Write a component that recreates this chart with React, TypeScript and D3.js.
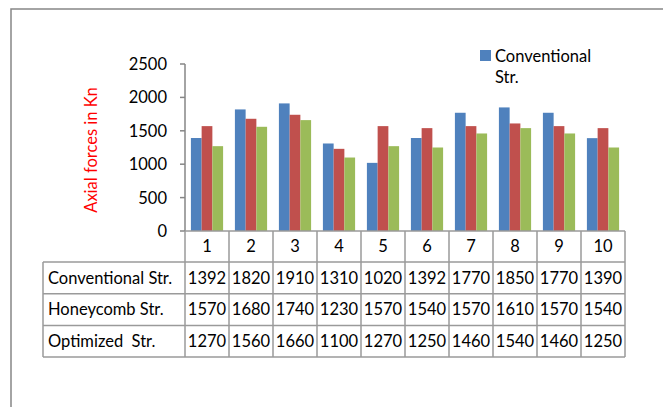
import React, { useEffect, useRef } from "react";
import * as d3 from "d3";

const categories = ["1", "2", "3", "4", "5", "6", "7", "8", "9", "10"];
const seriesNames = ["Conventional Str.", "Honeycomb Str.", "Optimized  Str."];
const conventional = [1392, 1820, 1910, 1310, 1020, 1392, 1770, 1850, 1770, 1390];
const honeycomb = [1570, 1680, 1740, 1230, 1570, 1540, 1570, 1610, 1570, 1540];
const optimized = [1270, 1560, 1660, 1100, 1270, 1250, 1460, 1540, 1460, 1250];
const yTicks = [0, 500, 1000, 1500, 2000, 2500];
const colors = ["#4F81BD", "#C0504D", "#9BBB59"];

const FONT = "Lato, 'Open Sans', sans-serif";
const FS = 16.5;

const App = () => {
	const svgRef = useRef<SVGSVGElement>(null);

	useEffect(() => {
		const svg = d3.select(svgRef.current);
		svg.selectAll("*").remove();

		const series = [conventional, honeycomb, optimized];
		const plot = { left: 185, right: 625, top: 64, bottom: 231 };
		const rowH = 31.7;
		const headerBottom = 262;
		const tableLeft = 43;

		const x = d3.scaleBand().domain(categories).range([plot.left, plot.right]);
		const x1 = d3
			.scaleBand()
			.domain(["0", "1", "2"])
			.range([0, x.bandwidth()])
			.paddingOuter(0.55)
			.paddingInner(0);
		const y = d3.scaleLinear().domain([0, 2500]).range([plot.bottom, plot.top]);

		// outer chart frame (only left and top edges visible)
		svg
			.append("path")
			.attr("d", "M11,407 V9 H663")
			.attr("fill", "none")
			.attr("stroke", "#868686")
			.attr("stroke-width", 1.5);

		// bars
		const groups = svg
			.append("g")
			.selectAll("g")
			.data(categories)
			.enter()
			.append("g")
			.attr("transform", (d) => `translate(${x(d)},0)`);

		groups
			.selectAll("rect")
			.data((d, i) => series.map((s, k) => ({ k, v: s[i] })))
			.enter()
			.append("rect")
			.attr("x", (d) => x1(String(d.k)))
			.attr("width", x1.bandwidth())
			.attr("y", (d) => y(d.v))
			.attr("height", (d) => plot.bottom - y(d.v))
			.attr("fill", (d) => colors[d.k]);

		// y axis
		const yAxis = svg.append("g").attr("transform", `translate(${plot.left},0)`);
		yAxis
			.append("line")
			.attr("y1", plot.top)
			.attr("y2", plot.bottom)
			.attr("stroke", "#868686")
			.attr("stroke-width", 1.5);
		yAxis
			.selectAll(".tick")
			.data(yTicks)
			.enter()
			.append("line")
			.attr("x1", -5)
			.attr("x2", 0)
			.attr("y1", (d) => y(d))
			.attr("y2", (d) => y(d))
			.attr("stroke", "#868686")
			.attr("stroke-width", 1.5);
		yAxis
			.selectAll("text")
			.data(yTicks)
			.enter()
			.append("text")
			.attr("x", -18)
			.attr("y", (d) => y(d))
			.attr("dy", "0.36em")
			.attr("text-anchor", "end")
			.attr("font-family", FONT)
			.attr("font-size", FS)
			.text((d) => d);

		svg
			.append("text")
			.attr("transform", `translate(97,150) rotate(-90)`)
			.attr("text-anchor", "middle")
			.attr("font-family", FONT)
			.attr("font-size", FS)
			.attr("fill", "#FF0000")
			.text("Axial forces in Kn");

		// data table
		const tableBottom = headerBottom + rowH * 3;
		const grid = svg
			.append("g")
			.attr("stroke", "#9a9a9a")
			.attr("stroke-width", 1.5)
			.attr("fill", "none");
		grid
			.append("line")
			.attr("x1", plot.left)
			.attr("x2", plot.right)
			.attr("y1", plot.bottom)
			.attr("y2", plot.bottom);
		[0, 1, 2, 3].forEach((r) => {
			grid
				.append("line")
				.attr("x1", tableLeft)
				.attr("x2", plot.right)
				.attr("y1", headerBottom + r * rowH)
				.attr("y2", headerBottom + r * rowH);
		});
		grid
			.append("line")
			.attr("x1", tableLeft)
			.attr("x2", tableLeft)
			.attr("y1", headerBottom)
			.attr("y2", tableBottom);
		categories.concat(["end"]).forEach((c) => {
			const xx = c === "end" ? plot.right : (x(c) as number);
			grid
				.append("line")
				.attr("x1", xx)
				.attr("x2", xx)
				.attr("y1", plot.bottom)
				.attr("y2", tableBottom);
		});

		svg
			.append("g")
			.selectAll("text")
			.data(categories)
			.enter()
			.append("text")
			.attr("x", (d) => (x(d) as number) + x.bandwidth() / 2)
			.attr("y", (plot.bottom + headerBottom) / 2)
			.attr("dy", "0.36em")
			.attr("text-anchor", "middle")
			.attr("font-family", FONT)
			.attr("font-size", FS)
			.text((d) => d);

		series.forEach((s, r) => {
			const cy = headerBottom + rowH * r + rowH / 2;
			const row = svg.append("g");
			row
				.append("text")
				.attr("x", 48)
				.attr("y", cy)
				.attr("dy", "0.36em")
				.attr("font-family", FONT)
				.attr("font-size", FS)
				.style("white-space", "pre")
				.text(seriesNames[r]);
			row
				.selectAll(".val")
				.data(s)
				.enter()
				.append("text")
				.attr("x", (d, i) => (x(categories[i]) as number) + x.bandwidth() / 2)
				.attr("y", cy)
				.attr("dy", "0.36em")
				.attr("text-anchor", "middle")
				.attr("font-family", FONT)
				.attr("font-size", FS)
				.text((d) => d);
		});

		// legend (only first entry visible)
		svg
			.append("rect")
			.attr("x", 480)
			.attr("y", 50)
			.attr("width", 11)
			.attr("height", 11)
			.attr("fill", colors[0]);
		svg
			.append("text")
			.attr("x", 495)
			.attr("y", 62)
			.attr("font-family", FONT)
			.attr("font-size", FS)
			.text("Conventional");
		svg
			.append("text")
			.attr("x", 495)
			.attr("y", 83)
			.attr("font-family", FONT)
			.attr("font-size", FS)
			.text("Str.");
	}, []);

	return (
		<svg
			ref={svgRef}
			width="663"
			height="407"
			style={{ position: "absolute", left: 0, top: 0, background: "#fff" }}
		></svg>
	);
};

export default App;
